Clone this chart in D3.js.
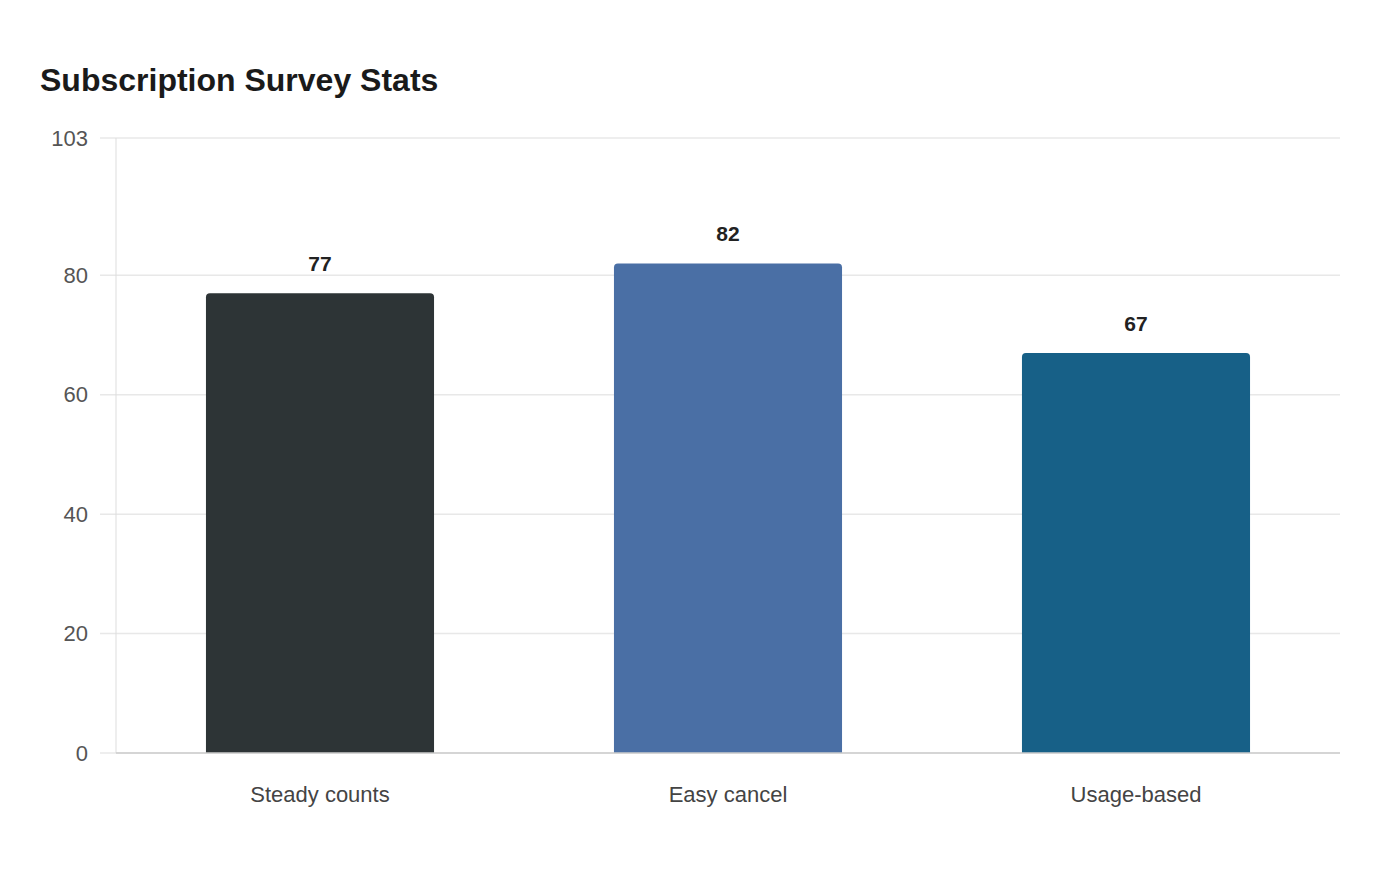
<!DOCTYPE html>
<html>
<head>
<meta charset="utf-8">
<script src="https://cdn.jsdelivr.net/npm/d3@7"></script>
<style>
  body { margin: 0; background: #fff; font-family: "Liberation Sans", Arial, sans-serif; }
</style>
</head>
<body>
<div id="chart"></div>
<script>
var categories = ["Steady counts", "Easy cancel", "Usage-based"];
var values = [77, 82, 67];
var colors = ["#2d3436", "#4a6fa5", "#176087"];
var yTicks = [0, 20, 40, 60, 80, 103];
var yMax = 103;

var width = 1400, height = 880;
var margin = { top: 138, right: 60, bottom: 127, left: 116 };

var svg = d3.select("#chart").append("svg")
    .attr("width", width)
    .attr("height", height);

svg.append("text")
    .attr("x", 40)
    .attr("y", 91)
    .attr("font-size", 32)
    .attr("font-weight", "bold")
    .attr("fill", "#1a1a1a")
    .text("Subscription Survey Stats");

var x = d3.scaleBand()
    .domain(categories)
    .range([margin.left, width - margin.right])
    .paddingInner(0.441)
    .paddingOuter(0.2205);

var y = d3.scaleLinear()
    .domain([0, yMax])
    .range([height - margin.bottom, margin.top]);

// grid lines
svg.append("g")
    .selectAll("line")
    .data(yTicks)
    .enter().append("line")
    .attr("x1", margin.left - 16)
    .attr("x2", width - margin.right)
    .attr("y1", function(d) { return y(d); })
    .attr("y2", function(d) { return y(d); })
    .attr("stroke", "#e8e8e8")
    .attr("stroke-width", 1.5);

// y axis line
svg.append("line")
    .attr("x1", margin.left).attr("x2", margin.left)
    .attr("y1", margin.top).attr("y2", height - margin.bottom)
    .attr("stroke", "#dddddd");

// y tick labels
svg.append("g")
    .selectAll("text")
    .data(yTicks)
    .enter().append("text")
    .attr("x", margin.left - 28)
    .attr("y", function(d) { return y(d); })
    .attr("dy", "0.35em")
    .attr("text-anchor", "end")
    .attr("font-size", 22)
    .attr("fill", "#555")
    .text(function(d) { return d; });

// bars with rounded tops
var r = 4;
svg.append("g")
    .selectAll("path")
    .data(values)
    .enter().append("path")
    .attr("fill", function(d, i) { return colors[i]; })
    .attr("d", function(d, i) {
        var x0 = x(categories[i]), w = x.bandwidth();
        var y0 = y(d), y1 = y(0);
        return "M" + x0 + "," + y1 +
            "V" + (y0 + r) +
            "Q" + x0 + "," + y0 + " " + (x0 + r) + "," + y0 +
            "H" + (x0 + w - r) +
            "Q" + (x0 + w) + "," + y0 + " " + (x0 + w) + "," + (y0 + r) +
            "V" + y1 + "Z";
    });

// x axis line
svg.append("line")
    .attr("x1", margin.left).attr("x2", width - margin.right)
    .attr("y1", y(0)).attr("y2", y(0))
    .attr("stroke", "#cccccc")
    .attr("stroke-width", 1.5);

// value labels
svg.append("g")
    .selectAll("text")
    .data(values)
    .enter().append("text")
    .attr("x", function(d, i) { return x(categories[i]) + x.bandwidth() / 2; })
    .attr("y", function(d) { return y(d) - 22; })
    .attr("text-anchor", "middle")
    .attr("font-size", 21)
    .attr("font-weight", "bold")
    .attr("fill", "#222")
    .text(function(d) { return d; });

// category labels
svg.append("g")
    .selectAll("text")
    .data(categories)
    .enter().append("text")
    .attr("x", function(d) { return x(d) + x.bandwidth() / 2; })
    .attr("y", y(0) + 49)
    .attr("text-anchor", "middle")
    .attr("font-size", 22)
    .attr("fill", "#444")
    .text(function(d) { return d; });
</script>
</body>
</html>
